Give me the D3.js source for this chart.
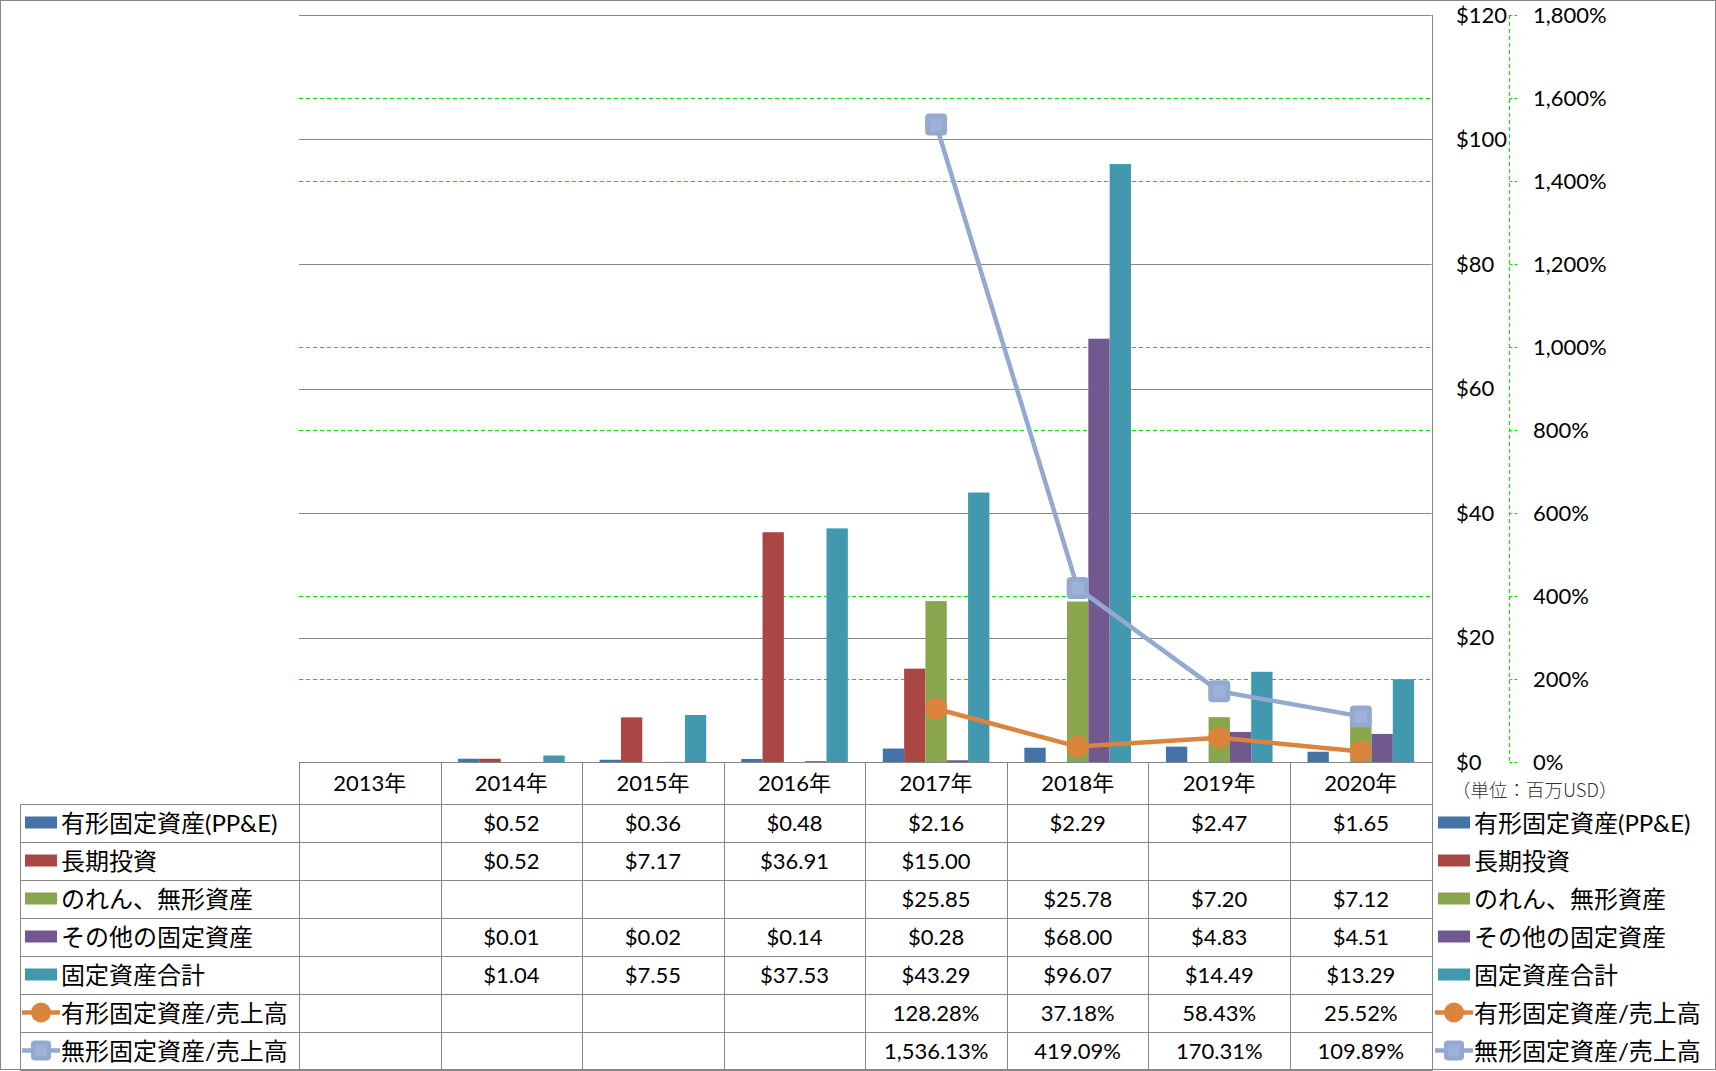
<!DOCTYPE html>
<html>
<head>
<meta charset="utf-8">
<script src="https://cdn.jsdelivr.net/npm/d3@7"></script>
<style>
  body { margin: 0; background: #fff; }
  svg { display: block; font-family: Lato, "Noto Sans CJK JP", sans-serif; }
</style>
</head>
<body>
<div id="chart"></div>
<script>
// データ
const years = ["2013年", "2014年", "2015年", "2016年", "2017年", "2018年", "2019年", "2020年"];

const ppe       = [null, 0.52, 0.36, 0.48, 2.16, 2.29, 2.47, 1.65];   // 有形固定資産(PP&E)
const longInv   = [null, 0.52, 7.17, 36.91, 15.00, null, null, null]; // 長期投資
const goodwill  = [null, null, null, null, 25.85, 25.78, 7.20, 7.12]; // のれん、無形資産
const otherFix  = [null, 0.01, 0.02, 0.14, 0.28, 68.00, 4.83, 4.51];  // その他の固定資産
const totalFix  = [null, 1.04, 7.55, 37.53, 43.29, 96.07, 14.49, 13.29]; // 固定資産合計

const ppeRatio  = [null, null, null, null, 128.28, 37.18, 58.43, 25.52];    // 有形固定資産/売上高 (%)
const intRatio  = [null, null, null, null, 1536.13, 419.09, 170.31, 109.89]; // 無形固定資産/売上高 (%)

const usdTicks = [0, 20, 40, 60, 80, 100, 120];
const pctTicks = [0, 200, 400, 600, 800, 1000, 1200, 1400, 1600, 1800];

const barSeries = [
  {name: "有形固定資産(PP&E)", color: "#4572A7", values: ppe},
  {name: "長期投資", color: "#AA4643", values: longInv},
  {name: "のれん、無形資産", color: "#89A54E", values: goodwill},
  {name: "その他の固定資産", color: "#71588F", values: otherFix},
  {name: "固定資産合計", color: "#4198AF", values: totalFix}
];
const lineSeries = [
  {name: "有形固定資産/売上高", color: "#DB843D", values: ppeRatio, marker: "circle"},
  {name: "無形固定資産/売上高", color: "#93A9CF", values: intRatio, marker: "square"}
];

// レイアウト
const W = 1716, H = 1071;
const plotLeft = 299, plotRight = 1431.6;
const baseY = 762, topY = 15;
const headerBottom = 803.5, rowH = 38;
const gridColor = "#868686";
const green = "#00e600";
const fontSize = 22;

const svg = d3.select("#chart").append("svg")
  .attr("width", W)
  .attr("height", H);

const crisp = v => Math.round(v) + 0.5;

// スケール
const x0 = d3.scaleBand().domain(years).range([plotLeft, plotRight]);
const x1 = d3.scaleBand().domain(barSeries.map(d => d.name))
  .range([0, x0.bandwidth()]).paddingInner(0).paddingOuter(0.82);
const yUsd = d3.scaleLinear().domain([0, 120]).range([baseY, topY]);
const yPct = d3.scaleLinear().domain([0, 1800]).range([baseY, topY]);

// 外枠
svg.append("rect")
  .attr("x", 0.5).attr("y", 0.5)
  .attr("width", W - 1).attr("height", H - 2)
  .attr("fill", "none").attr("stroke", gridColor);

// 第2軸の目盛線（緑の点線）
svg.append("g").selectAll("line")
  .data(pctTicks.filter(v => v > 0 && v < 1800))
  .enter().append("line")
  .attr("x1", plotLeft).attr("x2", plotRight)
  .attr("y1", d => crisp(yPct(d))).attr("y2", d => crisp(yPct(d)))
  .attr("stroke", green).attr("stroke-dasharray", "4,3");

// 主軸の目盛線
svg.append("g").selectAll("line")
  .data(usdTicks.filter(v => v > 0))
  .enter().append("line")
  .attr("x1", plotLeft).attr("x2", plotRight)
  .attr("y1", d => crisp(yUsd(d))).attr("y2", d => crisp(yUsd(d)))
  .attr("stroke", gridColor);

// 棒グラフ
const gBars = svg.append("g");
barSeries.forEach(function(s) {
  gBars.append("g").selectAll("rect")
    .data(years.map((y, i) => ({year: y, v: s.values[i]})).filter(d => d.v != null))
    .enter().append("rect")
    .attr("x", d => x0(d.year) + x1(s.name))
    .attr("width", x1.bandwidth())
    .attr("y", d => yUsd(d.v))
    .attr("height", d => baseY - yUsd(d.v))
    .attr("fill", s.color);
});

// 折れ線
const cx = y => x0(y) + x0.bandwidth() / 2;
const line = d3.line()
  .defined(d => d.v != null)
  .x(d => cx(d.year))
  .y(d => yPct(d.v));

function drawMarker(g, type, color, x, y, size) {
  if (type === "circle") {
    g.append("circle").attr("cx", x).attr("cy", y).attr("r", size / 2).attr("fill", color);
  } else {
    g.append("rect")
      .attr("x", x - size / 2).attr("y", y - size / 2)
      .attr("width", size).attr("height", size)
      .attr("rx", 4).attr("fill", color);
    g.append("rect")
      .attr("x", x - size * 0.28).attr("y", y - size * 0.28)
      .attr("width", size * 0.56).attr("height", size * 0.56)
      .attr("fill", "#9eb2d8");
  }
}

lineSeries.slice().reverse().forEach(function(s) {
  const data = years.map((y, i) => ({year: y, v: s.values[i]}));
  const g = svg.append("g");
  g.append("path")
    .attr("d", line(data))
    .attr("fill", "none")
    .attr("stroke", s.color)
    .attr("stroke-width", 4.5)
    .attr("stroke-linejoin", "round");
  data.filter(d => d.v != null).forEach(function(d) {
    drawMarker(g, s.marker, s.color, cx(d.year), yPct(d.v), 22);
  });
});

// 主軸（右側）
svg.append("line")
  .attr("x1", crisp(plotRight)).attr("x2", crisp(plotRight))
  .attr("y1", topY).attr("y2", baseY)
  .attr("stroke", gridColor);

svg.append("g").selectAll("text")
  .data(usdTicks)
  .enter().append("text")
  .attr("x", 1456)
  .attr("y", d => yUsd(d))
  .attr("dy", "0.35em")
  .style("font-size", fontSize + "px")
  .text(d => d3.format("$")(d));

// 第2軸（緑の点線）
const axisX = 1509.5;
svg.append("line")
  .attr("x1", axisX).attr("x2", axisX)
  .attr("y1", topY).attr("y2", baseY)
  .attr("stroke", green).attr("stroke-dasharray", "4,3");
svg.append("g").selectAll("line")
  .data(pctTicks)
  .enter().append("line")
  .attr("x1", axisX).attr("x2", axisX + 8)
  .attr("y1", d => crisp(yPct(d))).attr("y2", d => crisp(yPct(d)))
  .attr("stroke", green).attr("stroke-dasharray", "3,2");

svg.append("g").selectAll("text")
  .data(pctTicks)
  .enter().append("text")
  .attr("x", 1533)
  .attr("y", d => yPct(d))
  .attr("dy", "0.35em")
  .style("font-size", fontSize + "px")
  .text(d => d3.format(",")(d) + "%");

svg.append("text")
  .attr("x", 1452)
  .attr("y", 791)
  .attr("dy", "0.35em")
  .style("font-family", "'Noto Sans CJK JP', sans-serif")
  .style("font-size", "18.5px")
  .style("font-weight", 300)
  .attr("fill", "#333")
  .text("（単位：百万USD）");

// データテーブル
const allSeries = barSeries.map(d => ({...d, type: "bar"}))
  .concat(lineSeries.map(d => ({...d, type: "line"})));
const rowY = i => headerBottom + i * rowH;
const tableBottom = rowY(allSeries.length);

const gTable = svg.append("g").attr("stroke", gridColor);
gTable.append("line")
  .attr("x1", plotLeft).attr("x2", crisp(plotRight))
  .attr("y1", crisp(baseY)).attr("y2", crisp(baseY));
d3.range(allSeries.length + 1).forEach(function(i) {
  gTable.append("line")
    .attr("x1", 20.5).attr("x2", crisp(plotRight))
    .attr("y1", crisp(rowY(i))).attr("y2", crisp(rowY(i)));
});
gTable.append("line")
  .attr("x1", 20.5).attr("x2", 20.5)
  .attr("y1", crisp(headerBottom)).attr("y2", crisp(tableBottom));
years.concat([null]).forEach(function(y, i) {
  const x = crisp(y ? x0(y) : plotRight);
  gTable.append("line")
    .attr("x1", x).attr("x2", x)
    .attr("y1", crisp(baseY)).attr("y2", crisp(tableBottom));
});

// 年の見出し
svg.append("g").selectAll("text")
  .data(years)
  .enter().append("text")
  .attr("x", d => cx(d))
  .attr("y", (baseY + headerBottom) / 2 + 1)
  .attr("dy", "0.35em")
  .attr("text-anchor", "middle")
  .style("font-size", fontSize + "px")
  .text(d => d);

const fmtUsd = d3.format("$,.2f");
const fmtPct = v => d3.format(",.2f")(v) + "%";

allSeries.forEach(function(s, i) {
  const yMid = rowY(i) + rowH / 2;
  svg.append("g").selectAll("text")
    .data(years.map((y, j) => ({year: y, v: s.values[j]})).filter(d => d.v != null))
    .enter().append("text")
    .attr("x", d => cx(d.year))
    .attr("y", yMid + 1)
    .attr("dy", "0.35em")
    .attr("text-anchor", "middle")
    .style("font-size", fontSize + "px")
    .text(d => s.type === "bar" ? fmtUsd(d.v) : fmtPct(d.v));

  // 凡例（左・右）
  [{x: 25, tx: 61}, {x: 1438, tx: 1474}].forEach(function(pos) {
    const g = svg.append("g");
    if (s.type === "bar") {
      g.append("rect")
        .attr("x", pos.x).attr("y", yMid - 6)
        .attr("width", 32).attr("height", 12)
        .attr("fill", s.color);
    } else {
      g.append("line")
        .attr("x1", pos.x - 3).attr("x2", pos.x + 35)
        .attr("y1", yMid).attr("y2", yMid)
        .attr("stroke", s.color).attr("stroke-width", 4.5);
      drawMarker(g, s.marker, s.color, pos.x + 16, yMid, 20);
    }
    g.append("text")
      .attr("x", pos.tx)
      .attr("y", yMid + 1)
      .attr("dy", "0.35em")
      .style("font-size", "24px")
      .text(s.name);
  });
});
</script>
</body>
</html>
